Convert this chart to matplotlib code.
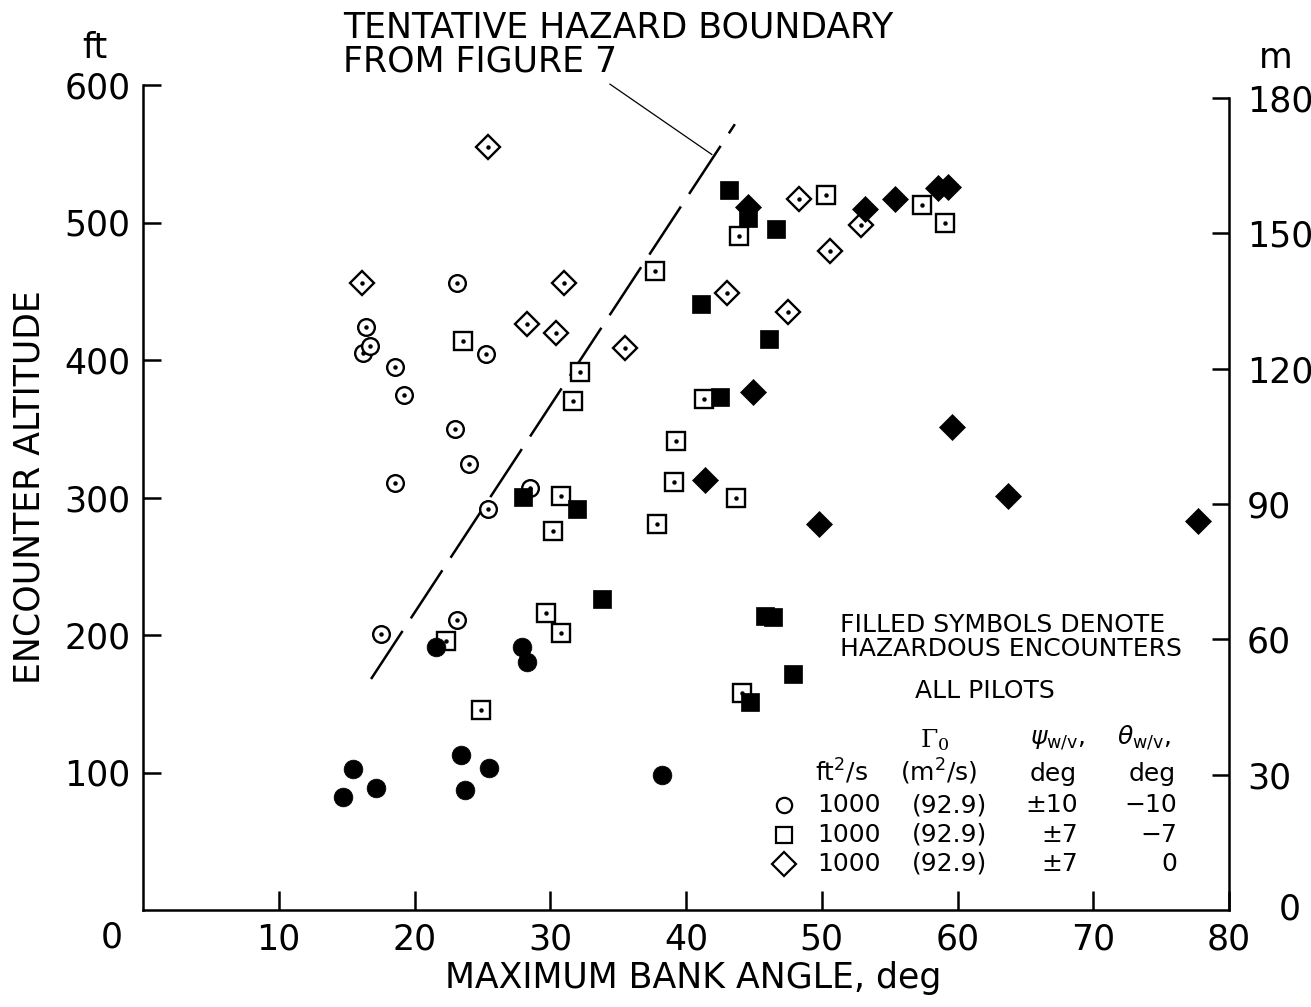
import matplotlib
matplotlib.use("Agg")
import matplotlib.pyplot as plt
from matplotlib.lines import Line2D

W, H = 1311, 1007

# open symbols (non-hazardous): bank angle (deg), altitude (ft)
circ_x = [16.2, 16.7, 16.4, 23.1, 18.6, 19.2, 23.0, 24.0, 18.6, 25.3, 25.4, 28.5, 17.5, 23.1]
circ_y = [405, 410, 424, 456, 395, 374.5, 349.5, 324.5, 310.5, 404.5, 291.5, 307, 200.5, 211]

sq_x = [23.6, 32.2, 31.7, 30.8, 30.2, 29.7, 30.8, 22.3, 24.9, 50.3, 43.9, 57.4, 59.1,
        37.7, 41.3, 39.3, 39.1, 43.7, 37.9, 44.1]
sq_y = [413.5, 391.5, 370.5, 301, 276, 216, 201.5, 196, 145.5, 520, 490, 512.5, 499.5,
        465, 372, 341, 311, 299.5, 281, 157.5]

dia_x = [25.4, 16.1, 31.0, 28.3, 30.4, 35.5, 48.3, 52.9, 50.6, 43.0, 47.5]
dia_y = [555, 456, 456, 426, 420, 409, 517, 498.5, 479.5, 448.5, 435]

# filled symbols (hazardous)
circf_x = [21.6, 27.9, 28.3, 15.5, 14.7, 17.2, 23.4, 25.5, 23.7, 38.2]
circf_y = [191, 191, 180.5, 102.5, 82.5, 88.5, 113, 103, 87.5, 98]

sqf_x = [43.2, 44.6, 46.6, 41.1, 46.1, 42.5, 28.0, 32.0, 33.8, 45.8, 46.4, 47.9, 44.7]
sqf_y = [524, 503, 495, 441, 415, 373, 300.7, 292, 226, 214, 213, 171.5, 151]

diaf_x = [44.6, 53.2, 55.4, 58.6, 59.3, 44.9, 59.6, 41.4, 49.8, 63.7, 77.7]
diaf_y = [511, 510, 517, 525, 526, 377, 351, 313, 280.5, 301, 283]

# tentative hazard boundary and its leader
bound_x = [16.8, 43.6]
bound_y = [168, 571.5]
lead_x = [34.4, 41.9]
lead_y = [600.6, 549.5]

xticks = [10, 20, 30, 40, 50, 60, 70, 80]
yticks_ft = [100, 200, 300, 400, 500, 600]
yticks_m = [30, 60, 90, 120, 150, 180]

FS = 25
LFS = 18

fig = plt.figure(figsize=(W / 100, H / 100), dpi=100)
ax = fig.add_axes([143 / W, 1 - 910 / H, (1229 - 143) / W, (910 - 85) / H])
ax.set_xlim(0, 80)
ax.set_ylim(0, 600)

ax.plot(bound_x, bound_y, color="black", lw=1.8, linestyle=(0, (23, 6)),
        solid_capstyle="butt", zorder=2)
ax.plot(lead_x, lead_y, color="black", lw=0.9, clip_on=False, zorder=2)

ms_open = dict(linestyle="none", mfc="white", mec="black", mew=1.7, zorder=3)
ax.plot(circ_x, circ_y, marker="o", ms=12, **ms_open)
ax.plot(sq_x, sq_y, marker="s", ms=12.5, **ms_open)
ax.plot(dia_x, dia_y, marker="D", ms=12, **ms_open)
for xs, ys in [(circ_x, circ_y), (sq_x, sq_y), (dia_x, dia_y)]:
    ax.plot(xs, ys, linestyle="none", marker="o", ms=2.2, color="black", zorder=3)

ms_fill = dict(linestyle="none", mfc="black", mec="black", mew=0.5, zorder=4)
ax.plot(circf_x, circf_y, marker="o", ms=13.5, **ms_fill)
ax.plot(sqf_x, sqf_y, marker="s", ms=13.5, **ms_fill)
ax.plot(diaf_x, diaf_y, marker="D", ms=13, **ms_fill)

# axes styling
for s in ["top", "right"]:
    ax.spines[s].set_visible(False)
for s in ["left", "bottom"]:
    ax.spines[s].set_linewidth(1.8)
ax.set_xticks(xticks)
ax.set_xticklabels([str(v) for v in xticks])
ax.set_yticks(yticks_ft)
ax.set_yticklabels([str(v) for v in yticks_ft])
ax.tick_params(axis="x", direction="in", length=14, width=1.8, pad=9, labelsize=FS)
ax.tick_params(axis="y", direction="in", length=13, width=1.8, pad=9, labelsize=FS)

ax2 = ax.twinx()
ax2.set_ylim(0, 600 * 0.3048)
for s in ["top", "left", "bottom"]:
    ax2.spines[s].set_visible(False)
ax2.spines["right"].set_bounds(0, 180)
ax2.spines["right"].set_linewidth(1.8)
ax2.set_yticks(yticks_m)
ax2.set_yticklabels([str(v) for v in yticks_m])
ax2.tick_params(axis="y", direction="in", length=12, width=1.8, pad=13, labelsize=FS)


def ftext(px, py, s, **kw):
    kw.setdefault("fontsize", FS)
    kw.setdefault("va", "center")
    return fig.text(px / W, 1 - py / H, s, **kw)


def fmark(px, py, **kw):
    fig.add_artist(Line2D([px / W], [1 - py / H], transform=fig.transFigure, **kw))


# axis labels and unit labels
ftext(112, 938, "0", ha="center")
ftext(1290, 910, "0", ha="center")
ftext(95, 48, "ft", ha="center")
ftext(1276, 58, "m", ha="center")
ftext(693, 978, "MAXIMUM BANK ANGLE, deg", ha="center")
ftext(30, 487, "ENCOUNTER ALTITUDE", ha="center", rotation=90)

ftext(343, 38, "TENTATIVE HAZARD BOUNDARY", ha="left", va="baseline")
ftext(343, 72, "FROM FIGURE 7", ha="left", va="baseline")

# key
ftext(840, 637, "FILLED SYMBOLS DENOTE\nHAZARDOUS ENCOUNTERS", ha="left",
      fontsize=LFS, linespacing=1.0)
ftext(985, 691, "ALL PILOTS", ha="center", fontsize=LFS)
ftext(935, 740, r"$\Gamma_0$", ha="center", fontsize=LFS, math_fontfamily="dejavuserif")
ftext(1030, 740, r"$\psi_{\mathrm{w/v}}$,", ha="left", fontsize=LFS)
ftext(1117, 738, r"$\theta_{\mathrm{w/v}}$,", ha="left", fontsize=LFS)
ftext(815, 772, r"ft$^2$/s", ha="left", fontsize=LFS)
ftext(900, 772, r"(m$^2$/s)", ha="left", fontsize=LFS)
ftext(1053, 774, "deg", ha="center", fontsize=LFS)
ftext(1152, 774, "deg", ha="center", fontsize=LFS)

key_rows = [
    ("o", 11, "±10", "−10"),
    ("s", 11, "±7", "−7"),
    ("D", 12, "±7", "0"),
]
for i, (mk, msz, psi, theta) in enumerate(key_rows):
    py = 805 + i * 29.5
    fmark(784, py, marker=mk, ms=msz, mfc="white", mec="black", mew=1.6, linestyle="none")
    ftext(817, py, "1000", ha="left", fontsize=LFS)
    ftext(987, py, "(92.9)", ha="right", fontsize=LFS)
    ftext(1078, py, psi, ha="right", fontsize=LFS)
    ftext(1177, py, theta, ha="right", fontsize=LFS)

fig.savefig("out.png", dpi=100)
